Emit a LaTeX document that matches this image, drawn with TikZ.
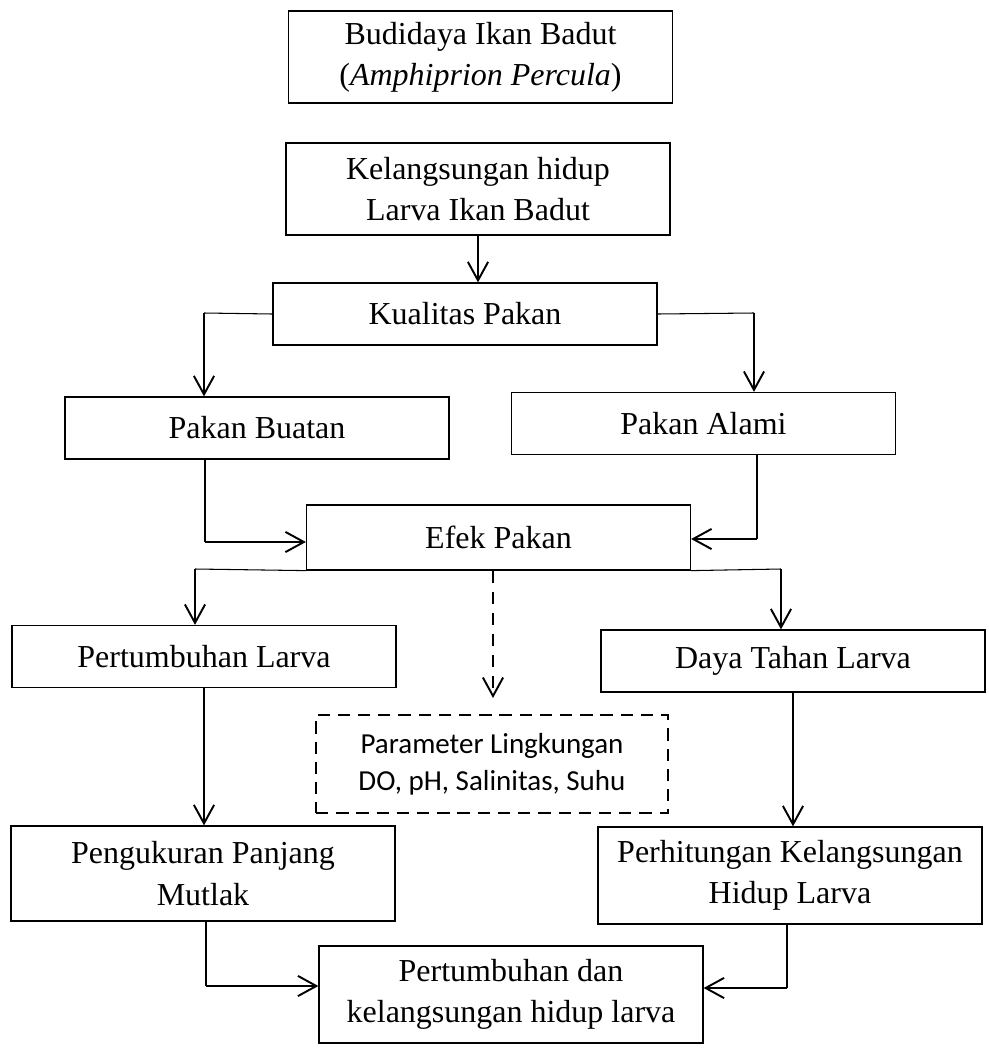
\documentclass[tikz,border=0pt]{standalone}
\usepackage{fontspec}
\setmainfont{Liberation Serif}
\newfontfamily\paramfont{Carlito}
\usetikzlibrary{arrows.meta}
\begin{document}
\begin{tikzpicture}[>={Straight Barb[length=10.5pt,width=11.5pt]},
  box/.style={draw,line width=0.7pt,minimum width=7.68cm,minimum height=1.24cm,align=center,inner sep=0pt,font=\fontsize{18.2}{23.5}\selectfont},
  dbox/.style={draw,line width=1.2pt,dash pattern=on 7pt off 4.5pt,minimum width=7.04cm,minimum height=1.96cm,align=center,inner sep=0pt,font=\paramfont\fontsize{16.5}{21}\selectfont},
  thin/.style={line width=0.6pt},
  arr/.style={->,line width=1.1pt}]
\useasboundingbox (0,0) rectangle (19.76,-21.04);
% kotak
\node[box,minimum height=1.84cm] (budidaya) at (9.61,-1.14) {Budidaya Ikan Badut\\(\textit{Amphiprion Percula})};
\node[box,minimum height=1.84cm] (hidup) at (9.56,-3.78) {Kelangsungan hidup\\Larva Ikan Badut};
\node[box] (kual) at (9.3,-6.28) {Kualitas Pakan};
\node[box] (buatan) at (5.14,-8.56) {Pakan Buatan};
\node[box] (alami) at (14.07,-8.47) {Pakan Alami};
\node[box,minimum height=1.3cm] (efek) at (9.97,-10.75) {Efek Pakan};
\node[box] (pl) at (4.08,-13.13) {Pertumbuhan Larva};
\node[box] (daya) at (15.86,-13.22) {Daya Tahan Larva};
\node[dbox] (param) at (9.84,-15.28) {Parameter Lingkungan\\DO, pH, Salinitas, Suhu};
\node[box,minimum height=1.9cm] (peng) at (4.06,-17.47) {Pengukuran Panjang\\Mutlak};
\node[box,minimum height=1.94cm] (perh) at (15.8,-17.51) {Perhitungan Kelangsungan\\Hidup Larva};
\node[box,minimum height=1.94cm] (akhir) at (10.22,-19.89) {Pertumbuhan dan\\kelangsungan hidup larva};
% titik belok
\coordinate (kl) at (4.08,-6.26);
\coordinate (kr) at (15.08,-6.26);
\coordinate (bl) at (4.1,-10.84);
\coordinate (ar) at (15.14,-10.78);
\coordinate (el) at (3.9,-11.38);
\coordinate (er) at (15.62,-11.38);
\coordinate (pd) at (9.86,-13.96);
\coordinate (pgl) at (4.12,-19.72);
\coordinate (phr) at (15.74,-19.76);
% panah
\draw[arr] (hidup.south) -- (hidup.south |- kual.north);
\draw[thin] (kual.west) -- (kl);
\draw[arr] (kl) -- (kl |- buatan.north);
\draw[thin] (kual.east) -- (kr);
\draw[arr] (kr) -- (kr |- alami.north);
\draw[thin] (bl |- buatan.south) -- (bl);
\draw[arr] (bl) -- (bl -| efek.west);
\draw[thin] (ar |- alami.south) -- (ar);
\draw[arr] (ar) -- (ar -| efek.east);
\draw[thin] (efek.south west) -- (el);
\draw[arr] (el) -- (el |- pl.north);
\draw[thin] (efek.south east) -- (er);
\draw[arr] (er) -- (er |- daya.north);
\draw[arr,dash pattern=on 7pt off 5pt] (pd |- efek.south) -- (pd);
\draw[arr] (pl.south) -- (pl.south |- peng.north);
\draw[arr] (daya.south) -- (daya.south |- perh.north);
\draw[thin] (pgl |- peng.south) -- (pgl);
\draw[arr] (pgl) -- (pgl -| akhir.west);
\draw[thin] (phr |- perh.south) -- (phr);
\draw[arr] (phr) -- (phr -| akhir.east);
\end{tikzpicture}
\end{document}
